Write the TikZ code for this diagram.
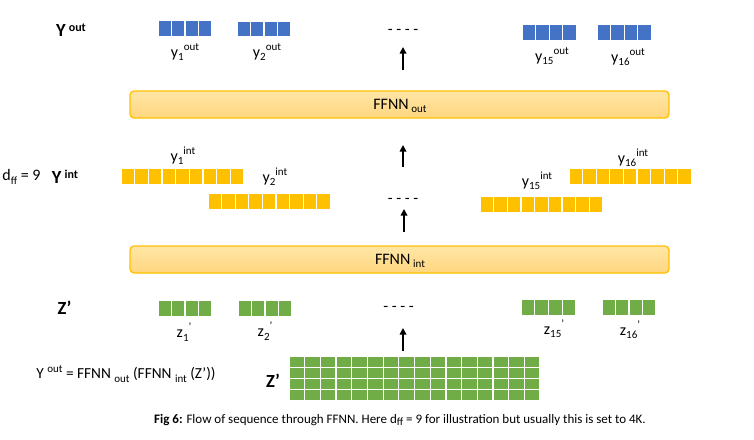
\documentclass[tikz,border=0pt]{standalone}
\usepackage{fontspec}
\setmainfont{Carlito}
\usetikzlibrary{arrows.meta}
\definecolor{cblue}{HTML}{4472C4}
\definecolor{cyel}{HTML}{FFC000}
\definecolor{cgreen}{HTML}{70AD47}
\definecolor{boxtop}{HTML}{FFE6A6}
\definecolor{boxbot}{HTML}{FFD67F}
\newcommand\sups[1]{\raisebox{0.42em}{\fontsize{11}{12}\selectfont #1}}
\newcommand\subs[1]{\raisebox{-0.22em}{\fontsize{11}{12}\selectfont #1}}
\newcommand\bsups[1]{\raisebox{0.3em}{\fontsize{12}{13}\selectfont\bfseries #1}}
\tikzset{
  lbl/.style={inner sep=0, font=\fontsize{16}{18}\selectfont},
  blbl/.style={inner sep=0, font=\fontsize{18.5}{20}\selectfont\bfseries},
  ffbox/.style={draw=cyel, line width=1.3pt, rounded corners=4pt, top color=boxtop, bottom color=boxbot, inner sep=0},
  uparrow/.style={-{Triangle[width=6.5pt,length=6.5pt]}, line width=1.8pt},
}
\newcommand\cellrow[7]{%
  \foreach \i in {1,...,#4}{\fill[#7] ({#2+(\i-1)*#5+0.6},#3) rectangle ({#2+\i*#5-0.6},{#3+#6});}
  \coordinate (#1) at ({#2+#4*#5/2},{#3+#6/2});
}
\begin{document}
\begin{tikzpicture}[x=1pt,y=-1pt]
\useasboundingbox (0,0) rectangle (754,439);
% ---- Y out row
\node[blbl] (Yout) at (71,30) {Y\,\bsups{out}};
\cellrow{y1o}{158}{21}{4}{13.5}{14.5}{cblue}
\cellrow{y2o}{237}{21.5}{4}{13.5}{14.5}{cblue}
\cellrow{y15o}{522}{25}{4}{13.6}{14.5}{cblue}
\cellrow{y16o}{597}{25}{4}{13.6}{14.5}{cblue}
\node[lbl] (ly1o) at (185,52) {y\subs{1}\sups{out}};
\node[lbl] (ly2o) at (267,52) {y\subs{2}\sups{out}};
\node[lbl] (ly15o) at (552,56) {y\subs{15}\sups{out}};
\node[lbl] (ly16o) at (628,57) {y\subs{16}\sups{out}};
\node[lbl] (d1) at (403,32) {- - - -};
\coordinate (a1s) at (403,70); \coordinate (a1e) at (403,47);
\draw[uparrow] (a1s) -- (a1e);
% ---- FFNN out
\node[ffbox, minimum width=539pt, minimum height=27pt] (ffout) at (399.5,104.5) {};
\node[lbl] (lffout) at (400,106) {FFNN\,\subs{out}};
\coordinate (a2s) at (403,167); \coordinate (a2e) at (403,145);
\draw[uparrow] (a2s) -- (a2e);
% ---- Y int row
\node[lbl] (dff) at (21.5,177) {d\subs{ff} = 9};
\node[blbl] (Yint) at (65,177) {Y\,\bsups{int}};
\cellrow{y1i}{121}{169}{9}{13.67}{14.5}{cyel}
\cellrow{y2i}{208}{194}{9}{13.6}{14.5}{cyel}
\cellrow{y15i}{480}{197}{9}{13.67}{14.5}{cyel}
\cellrow{y16i}{569}{169}{9}{13.6}{14.5}{cyel}
\node[lbl] (ly1i) at (183,156) {y\subs{1}\sups{int}};
\node[lbl] (ly2i) at (275,177) {y\subs{2}\sups{int}};
\node[lbl] (ly15i) at (537,181) {y\subs{15}\sups{int}};
\node[lbl] (ly16i) at (633,158) {y\subs{16}\sups{int}};
\node[lbl] (d2) at (403,201) {- - - -};
\coordinate (a3s) at (404,232); \coordinate (a3e) at (404,209);
\draw[uparrow] (a3s) -- (a3e);
% ---- FFNN int
\node[ffbox, minimum width=539pt, minimum height=27pt] (ffint) at (399.5,259.5) {};
\node[lbl] (lffint) at (400,261) {FFNN\,\subs{int}};
% ---- Z' row
\node[blbl] (Zr) at (64.5,308) {Z’};
\cellrow{z1}{158}{301}{4}{13.5}{15}{cgreen}
\cellrow{z2}{238}{301}{4}{13.5}{15}{cgreen}
\cellrow{z15}{521}{300}{4}{13.7}{15}{cgreen}
\cellrow{z16}{602}{300}{4}{13.5}{15}{cgreen}
\node[lbl] (lz1) at (184,332) {z\subs{1}\sups{’}};
\node[lbl] (lz2) at (265,331) {z\subs{2}\sups{’}};
\node[lbl] (lz15) at (554,329) {z\subs{15}\sups{’}};
\node[lbl] (lz16) at (630,330) {z\subs{16}\sups{’}};
\node[lbl] (d3) at (398.5,309) {- - - -};
\coordinate (a4s) at (403,351); \coordinate (a4e) at (403,328);
\draw[uparrow] (a4s) -- (a4e);
% ---- Z' matrix
\foreach \r in {0,...,3}{
  \cellrow{zm\r}{289}{357+\r*10.75}{16}{15.69}{10.75}{cgreen}
}
\foreach \r in {1,2,3}{\draw[white,line width=1.2pt] (289,357+\r*10.75) -- (540,357+\r*10.75);}
\node[blbl] (Zm) at (273,381) {Z’};
\node[lbl, font=\fontsize{15.3}{17}\selectfont] (eq) at (126,374) {Y \sups{out} = FFNN \subs{out} (FFNN \subs{int} (Z’))};
% ---- caption
\node[inner sep=0, font=\fontsize{13}{15}\selectfont] (cap) at (400,420) {\textbf{Fig 6:} Flow of sequence through FFNN. Here d\subs{ff} = 9 for illustration but usually this is set to 4K.};
\end{tikzpicture}
\end{document}
